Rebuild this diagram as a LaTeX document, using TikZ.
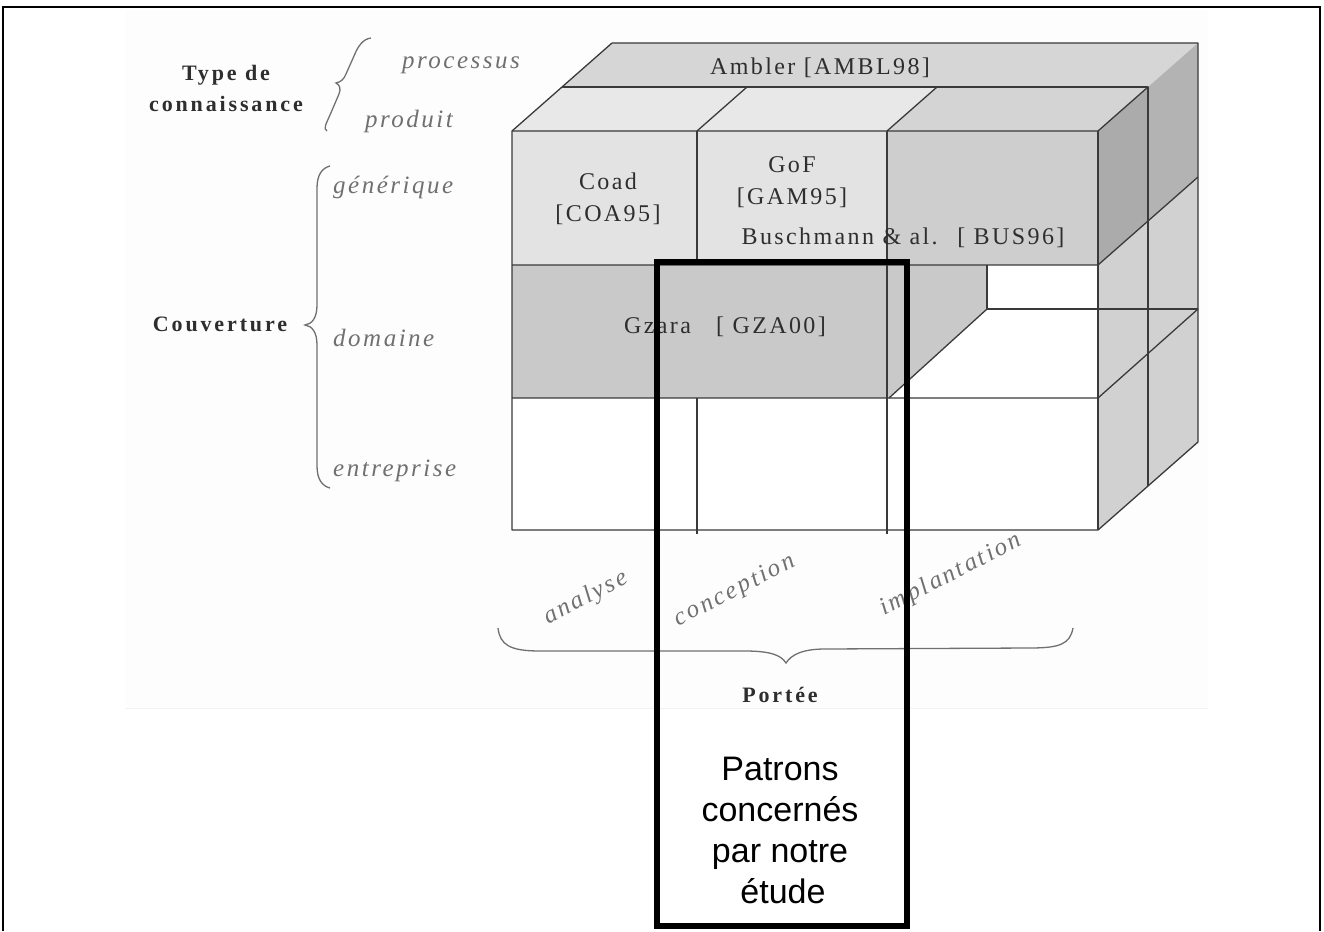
\documentclass[tikz,border=0pt]{standalone}
\usepackage{fontspec}
\setmainfont{Liberation Serif}
\newfontfamily\labfont[LetterSpace=10]{Liberation Serif}
\newfontfamily\headfont[LetterSpace=13]{Liberation Serif}
\newfontfamily\arialfont{Liberation Sans}
\definecolor{edge}{HTML}{3A3A3A}
\definecolor{txt}{HTML}{2E2E2E}
\definecolor{axisgray}{HTML}{707070}
\definecolor{topback}{HTML}{D6D6D6}
\definecolor{toplight}{HTML}{E8E8E8}
\definecolor{topmid}{HTML}{D4D4D4}
\definecolor{frontlight}{HTML}{E3E3E3}
\definecolor{frontmid}{HTML}{CECECE}
\definecolor{domgray}{HTML}{C9C9C9}
\definecolor{sidedark}{HTML}{ABABAB}
\definecolor{sidedarkb}{HTML}{B3B3B3}
\definecolor{sidelight}{HTML}{D1D1D1}
\begin{document}
\begin{tikzpicture}[x=1pt,y=-1pt,
  edgeline/.style={draw=edge,line width=1.3pt,line join=round},
  celltext/.style={font=\labfont\fontsize{24}{32}\selectfont,text=txt,align=center,inner sep=0pt},
  axislabel/.style={font=\labfont\itshape\fontsize{25}{28}\selectfont,text=axisgray,inner sep=0pt},
  headlabel/.style={font=\headfont\bfseries\fontsize{22}{31}\selectfont,text=txt,align=center,inner sep=0pt},
  bracestyle/.style={draw=axisgray,line width=1.3pt},
  studybox/.style={draw=black,line width=5.5pt,minimum width=250pt,minimum height=664pt,inner sep=0pt},
  studytext/.style={font=\arialfont\fontsize{34}{41}\selectfont,align=center,inner sep=0pt}]
\useasboundingbox (0,0) rectangle (1324,931);
% scanned background
\fill[black!0.6] (125,10) rectangle (1208,708);
\draw[black!5,line width=1pt] (125,708) -- (1208,708);
% outer frame
\draw[black,line width=2.5pt] (3,931) -- (3,7) -- (1320,7) -- (1320,931);

% ---------- cube faces ----------
% processus top
\fill[topback] (562,87) -- (1148,87) -- (1198,43) -- (612,43) -- cycle;
% produit top
\fill[toplight] (512,131) -- (887,131) -- (937,87) -- (562,87) -- cycle;
\fill[topmid] (887,131) -- (1098,131) -- (1148,87) -- (937,87) -- cycle;
% front generic row
\fill[frontlight] (512,131) rectangle (887,265);
\fill[frontmid] (887,131) rectangle (1098,265);
% right faces generic
\fill[sidedark] (1098,131) -- (1148,87) -- (1148,221) -- (1098,265) -- cycle;
\fill[sidedarkb] (1148,87) -- (1198,43) -- (1198,177) -- (1148,221) -- cycle;
% right faces lower
\fill[sidelight] (1098,265) -- (1148,221) -- (1148,486) -- (1098,530) -- cycle;
\fill[sidelight] (1148,221) -- (1198,177) -- (1198,442) -- (1148,486) -- cycle;
% domain row
\fill[domgray] (512,265) rectangle (887,398);
\fill[domgray] (887,265) -- (987,265) -- (987,309) -- (889,398) -- (887,398) -- cycle;
% enterprise row and floor of the cut-out
\fill[white] (512,398) rectangle (1098,530);
\fill[white] (889,398) -- (987,309) -- (1098,309) -- (1098,398) -- cycle;
\fill[white] (987,265) rectangle (1098,309);

% ---------- edges ----------
\draw[edgeline] (612,43) -- (1198,43) -- (1198,442) -- (1148,486) -- (1098,530) -- (512,530) -- (512,131) -- (562,87) -- (612,43);
\draw[edgeline] (562,87) -- (1148,87) -- (1148,486);
\draw[edgeline] (512,131) -- (1098,131) -- (1148,87);
\draw[edgeline] (1098,131) -- (1098,530);
\draw[edgeline] (697,131) -- (747,87);
\draw[edgeline] (887,131) -- (937,87);
\draw[edgeline] (697,131) -- (697,265);
\draw[edgeline] (887,131) -- (887,398);
\draw[edgeline] (512,265) -- (1098,265) -- (1148,221) -- (1198,177);
\draw[edgeline] (987,265) -- (987,309) -- (1198,309);
\draw[edgeline] (987,309) -- (889,398);
\draw[edgeline] (512,398) -- (1098,398) -- (1198,309);
\draw[edgeline] (697,398) -- (697,534);
\draw[edgeline] (887,398) -- (887,534);

% ---------- cell texts ----------
\node[celltext] (ambler) at (820,68) {Ambler [AMBL98]};
\node[celltext] (coad) at (608,199) {Coad\\{}[COA95]};
\node[celltext] (gof) at (792,182) {GoF\\{}[GAM95]};
\node[celltext] (busch) at (903,238) {Buschmann \& al.~ [ BUS96]};
\node[celltext] (gzara) at (725,327) {Gzara~~ [ GZA00]};

% ---------- axis labels ----------
\node[headlabel] (type) at (226,88) {Type de\\connaissance};
\node[axislabel,anchor=west] (proc) at (402,65) {processus};
\node[axislabel,anchor=west] (prod) at (365,121) {produit};
\draw[bracestyle] (371,38) .. controls (363,39) and (358,46) .. (354,56) -- (346,74) .. controls (344,79) and (341,82) .. (336,83) .. controls (340,85) and (341,89) .. (339,94) -- (330,115) .. controls (326,124) and (323,129) .. (327,131);

\node[headlabel] (couv) at (220,324) {Couverture};
\node[axislabel,anchor=west] (gen) at (333,187) {générique};
\node[axislabel,anchor=west] (dom) at (333,338) {domaine};
\node[axislabel,anchor=west] (ent) at (333,471) {entreprise};
\draw[bracestyle] (330,166) .. controls (322,168) and (317,175) .. (317,188) -- (317,305) .. controls (317,318) and (312,324) .. (305,325) .. controls (312,326) and (317,332) .. (317,345) -- (317,466) .. controls (317,479) and (322,486) .. (330,488);

\node[axislabel,rotate=27] (ana) at (586,598) {analyse};
\node[axislabel,rotate=27] (conc) at (735,591) {conception};
\node[axislabel,rotate=27] (impl) at (951,575) {implantation};
\draw[bracestyle] (498,628) .. controls (500,645) and (510,651) .. (540,651) -- (745,651) .. controls (770,651) and (781,655) .. (786,663) .. controls (791,655) and (802,649) .. (825,649) -- (1030,648) .. controls (1060,648) and (1070,644) .. (1073,628);
\node[headlabel] (portee) at (780,695) {Portée};

% ---------- study box ----------
\node[studybox] (study) at (782,594) {};
\node[studytext] (studylabel) at (780,830) {Patrons\\concernés\\par notre\\\hspace{6pt}étude};
\end{tikzpicture}
\end{document}
